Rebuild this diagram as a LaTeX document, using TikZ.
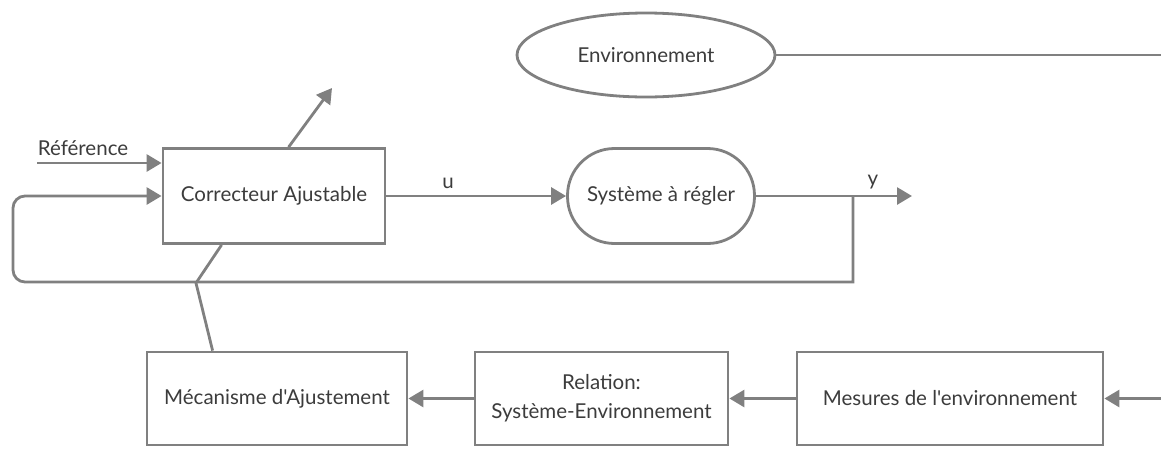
\documentclass[tikz,border=0pt]{standalone}
\usepackage{fontspec}
\setmainfont{Lato}[Ligatures=TeXOff]
\usetikzlibrary{arrows.meta,shapes.geometric,calc}
\definecolor{linegray}{HTML}{808080}
\definecolor{textgray}{HTML}{3C3C3C}
\begin{document}
\begin{tikzpicture}[x=1pt,y=-1pt,
  every node/.style={text=textgray, font=\fontsize{20.5}{29}\selectfont},
  conn/.style={draw=linegray, line width=2.8pt},
  arr/.style={conn, -{Triangle[length=15pt,width=17pt]}},
  blockbox/.style={draw=linegray, line width=2.8pt, fill=white, inner sep=0pt, align=center, minimum height=93pt},
  lbl/.style={inner sep=0pt},
]
\useasboundingbox (0,0) rectangle (1161,448);

% blocks
\node[blockbox, minimum width=222pt, minimum height=95pt] (corr) at (274,196) {Correcteur Ajustable};
\node[blockbox, minimum width=187pt, minimum height=95pt, rounded corners=47pt] (sys) at (661,196) {Système à régler};
\node[blockbox, ellipse, minimum width=258pt, minimum height=84pt] (env) at (646,55) {Environnement};
\node[blockbox, minimum width=260pt] (mec) at (277,398.5) {Mécanisme d'Ajustement};
\node[blockbox, minimum width=253pt] (rel) at (601.5,398.5) {Relation:\\Système-Environnement};
\node[blockbox, minimum width=306pt] (mes) at (950,398.5) {Mesures de l'environnement};

% free ends and junctions
\coordinate (refin) at (37,163);
\coordinate (tune) at (332,88);
\coordinate (ytap) at (853,196);
\coordinate (yout) at (912,196);
\coordinate (fbBR) at (853,282);
\coordinate (fbBL) at (13,282);
\coordinate (fbTL) at (13,196);
\coordinate (adj) at (196,283);
\coordinate (envR) at (1161,55);
\coordinate (mesIn) at (mes.east -| envR);

% labels
\node[lbl] (reflbl) at (83,148) {Référence};
\node[lbl] (ulbl) at (448,183) {u};
\node[lbl] (ylbl) at (873,182) {y};

% signal paths
\draw[arr] (refin) -- (corr.west |- refin);
\draw[arr] (corr.east) -- (sys.west);
\draw[arr] (sys.east) -- (yout);
\draw[arr] (ytap) -- (fbBR) [rounded corners=12pt] -- (fbBL) -- (fbTL) [sharp corners] -- (corr.west);
\draw[arr] ($(corr.north west)+(127,0)$) -- (tune);
\draw[conn] ($(corr.south west)+(60,0)$) -- (adj) -- ($(mec.north west)+(67,0)$);
\draw[conn] (env.east) -- (envR);
\draw[arr] (mesIn) -- (mes.east);
\draw[arr] (mes.west) -- (rel.east);
\draw[arr] (rel.west) -- (mec.east);
\end{tikzpicture}
\end{document}
